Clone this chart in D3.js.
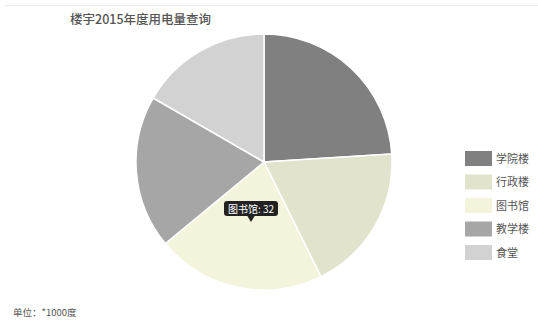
<!DOCTYPE html>
<html>
<head>
<meta charset="utf-8">
<script src="https://cdn.jsdelivr.net/npm/d3@7"></script>
<style>
body { margin: 0; background: #fff; }
text { font-family: "Noto Sans CJK SC", "DejaVu Sans", sans-serif; }
</style>
</head>
<body>
<div id="chart"></div>
<script>
// size of SVG
var w = 538;
var h = 320;

// data, in units of 1000 kWh
var buildings = ["学院楼", "行政楼", "图书馆", "教学楼", "食堂"];
var usage = [36, 28, 32, 29, 25];
var colors = ["#808080", "#e1e3cd", "#f4f4dd", "#a6a6a6", "#d2d2d2"];
var title = "楼宇2015年度用电量查询";
var unitLabel = "单位：*1000度";
var tipIndex = 2; // tooltip shown on 图书馆

var svg = d3.select("#chart")
  .append("svg")
  .attr("width", w)
  .attr("height", h);

// faint rule along the top
svg.append("line")
  .attr("x1", 5).attr("x2", w)
  .attr("y1", 5.5).attr("y2", 5.5)
  .attr("stroke", "#ececec");

svg.append("text")
  .attr("x", 70)
  .attr("y", 24)
  .attr("font-size", 12.5)
  .attr("font-weight", 500)
  .attr("fill", "#555")
  .text(title);

// pie
var cx = 264, cy = 162, radius = 128;
var pie = d3.pie().sort(null).value(function(d) { return d; });
var arc = d3.arc().innerRadius(0).outerRadius(radius);
var color = d3.scaleOrdinal().domain(buildings).range(colors);

var g = svg.append("g").attr("transform", "translate(" + cx + "," + cy + ")");
var arcs = pie(usage);
g.selectAll("path")
  .data(arcs)
  .enter().append("path")
  .attr("d", arc)
  .attr("fill", function(d, i) { return color(buildings[i]); })
  .attr("stroke", "#fff")
  .attr("stroke-width", 1.5);

// tooltip
var tipX = 251, tipY = 222;
var tip = svg.append("g").attr("transform", "translate(" + tipX + "," + tipY + ")");
tip.append("rect")
  .attr("x", -27).attr("y", -21)
  .attr("width", 54).attr("height", 15)
  .attr("rx", 3)
  .attr("fill", "#222");
tip.append("path")
  .attr("d", "M-4,-6.5L0,0L4,-6.5Z")
  .attr("fill", "#222");
tip.append("text")
  .attr("x", 0).attr("y", -9.5)
  .attr("text-anchor", "middle")
  .attr("font-size", 10)
  .attr("fill", "#fff")
  .text(buildings[tipIndex] + ": " + usage[tipIndex]);

// legend
var legend = svg.append("g").attr("transform", "translate(465,151)");
var item = legend.selectAll("g")
  .data(buildings)
  .enter().append("g")
  .attr("transform", function(d, i) { return "translate(0," + (i * 23.5) + ")"; });
item.append("rect")
  .attr("width", 27)
  .attr("height", 15)
  .attr("fill", function(d) { return color(d); });
item.append("text")
  .attr("x", 31)
  .attr("y", 11.5)
  .attr("font-size", 11)
  .attr("fill", "#555")
  .text(function(d) { return d; });

svg.append("text")
  .attr("x", 13)
  .attr("y", 316)
  .attr("font-size", 9.5)
  .attr("fill", "#555")
  .text(unitLabel);
</script>
</body>
</html>
